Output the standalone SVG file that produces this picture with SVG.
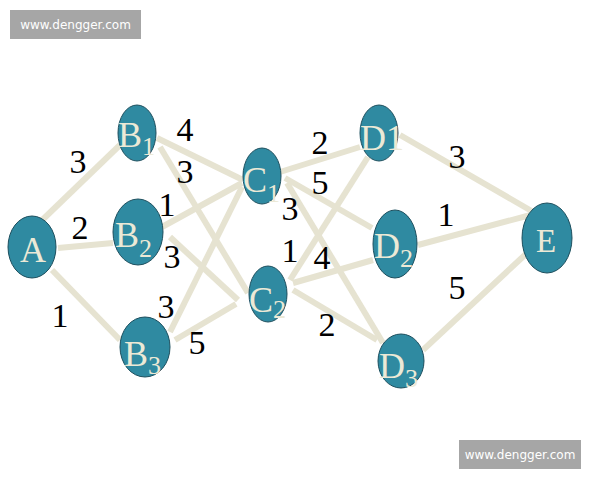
<svg xmlns="http://www.w3.org/2000/svg" width="600" height="480" viewBox="0 0 600 480">
<style>
.e{stroke:#e6e3d1;stroke-width:6;fill:none}
.n{fill:#2f8aa1;stroke:#1d4f5e;stroke-width:1}
.t{font-family:"Liberation Serif","Times New Roman",serif;font-size:36px;fill:#ece9d6}
.s{font-size:26px}
.wm{font-family:"DejaVu Sans",sans-serif;font-size:12px;fill:#fff;text-anchor:middle}
</style>
<rect width="600" height="480" fill="#fff"/>
<g id="watermarks">
<rect x="10" y="10" width="131" height="29" fill="#a6a6a6"/>
<text class="wm" x="75.5" y="29">www.dengger.com</text>
<rect x="459" y="440" width="122" height="29" fill="#a6a6a6"/>
<text class="wm" x="520" y="459">www.dengger.com</text>
</g>
<g id="connectors">
<line class="e" x1="35" y1="227" x2="120" y2="145"/>
<line class="e" x1="58" y1="248" x2="113" y2="243"/>
<line class="e" x1="52" y1="270" x2="120" y2="340"/>
<line class="e" x1="157" y1="138" x2="243" y2="180"/>
<line class="e" x1="160" y1="147" x2="248" y2="293"/>
<line class="e" x1="162" y1="227" x2="242" y2="183"/>
<line class="e" x1="170" y1="237" x2="238" y2="300"/>
<line class="e" x1="175" y1="340" x2="236" y2="304"/>
<line class="e" x1="170" y1="332" x2="242" y2="187"/>
<line class="e" x1="280" y1="172" x2="360" y2="147"/>
<line class="e" x1="285" y1="178" x2="372" y2="228"/>
<line class="e" x1="287" y1="183" x2="383" y2="343"/>
<line class="e" x1="290" y1="280" x2="368" y2="157"/>
<line class="e" x1="293" y1="283" x2="373" y2="260"/>
<line class="e" x1="293" y1="290" x2="377" y2="340"/>
<line class="e" x1="400" y1="135" x2="535" y2="213"/>
<line class="e" x1="418" y1="245" x2="538" y2="213"/>
<line class="e" x1="423" y1="350" x2="527" y2="253"/>
</g>
<g id="edge-labels" font-family="'Liberation Serif', 'Times New Roman', serif" font-size="34" fill="#000" text-anchor="middle">
<text x="78" y="173">3</text>
<text x="80" y="239">2</text>
<text x="60" y="327">1</text>
<text x="185" y="141">4</text>
<text x="185" y="183">3</text>
<text x="167" y="216">1</text>
<text x="172" y="268">3</text>
<text x="166" y="318">3</text>
<text x="197" y="354">5</text>
<text x="320" y="154">2</text>
<text x="320" y="194">5</text>
<text x="290" y="220">3</text>
<text x="290" y="262">1</text>
<text x="322" y="269">4</text>
<text x="327" y="336">2</text>
<text x="457" y="168">3</text>
<text x="446" y="226">1</text>
<text x="457" y="299">5</text>
</g>
<g id="A"><ellipse class="n" cx="32" cy="247" rx="24" ry="31"/><text class="t" x="33" y="262" text-anchor="middle">A</text></g>
<g id="B1"><ellipse class="n" cx="137" cy="133" rx="19" ry="28"/><text class="t" x="118" y="147">B<tspan class="s" dy="8">1</tspan></text></g>
<g id="B2"><ellipse class="n" cx="138" cy="232" rx="25" ry="33"/><text class="t" x="115" y="247">B<tspan class="s" dy="10">2</tspan></text></g>
<g id="B3"><ellipse class="n" cx="145" cy="347" rx="25" ry="30"/><text class="t" x="124" y="366">B<tspan class="s" dy="8">3</tspan></text></g>
<g id="C1"><ellipse class="n" cx="262" cy="176" rx="19" ry="28"/><text class="t" x="243" y="192">C<tspan class="s" dy="10">1</tspan></text></g>
<g id="C2"><ellipse class="n" cx="268" cy="294" rx="19" ry="28"/><text class="t" x="249" y="312">C<tspan class="s" dy="6">2</tspan></text></g>
<g id="D1"><ellipse class="n" cx="379" cy="133" rx="19" ry="28"/><text class="t" x="360" y="150">D1</text></g>
<g id="D2"><ellipse class="n" cx="395" cy="244" rx="22" ry="34"/><text class="t" x="374" y="258">D<tspan class="s" dy="9">2</tspan></text></g>
<g id="D3"><ellipse class="n" cx="401" cy="361" rx="23" ry="27"/><text class="t" x="379" y="378">D<tspan class="s" dy="9">3</tspan></text></g>
<g id="E"><ellipse class="n" cx="547" cy="238" rx="25" ry="35"/><text class="t" x="546" y="252" text-anchor="middle" style="font-size:33px">E</text></g>
</svg>
